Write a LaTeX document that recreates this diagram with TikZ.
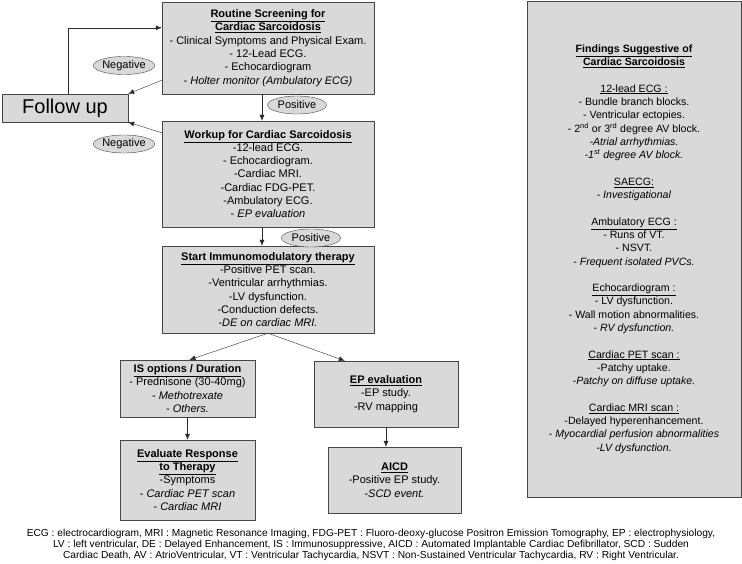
\documentclass[tikz,border=0pt]{standalone}
\usepackage{fontspec}
\setmainfont{Liberation Sans}
\usepackage{tikz}
\usetikzlibrary{shapes.geometric,arrows.meta}

\definecolor{boxfill}{RGB}{217,217,217}
\definecolor{boxline}{RGB}{70,70,70}
\definecolor{arrline}{RGB}{45,45,45}

\tikzset{
  box/.style={draw=boxline, fill=boxfill, align=center, inner sep=2pt,
    font=\fontsize{11}{13.3}\selectfont},
  tag/.style={ellipse, draw=boxline, fill=boxfill, inner sep=0pt,
    minimum width=59pt, minimum height=18pt, font=\fontsize{11}{13}\selectfont},
  arr/.style={draw=arrline, -{Latex[length=6pt,width=5pt]}}
}
\newcommand{\head}[1]{\underline{\textbf{#1}}}

\begin{document}
\begin{tikzpicture}[x=1pt,y=-1pt]
    \useasboundingbox (0,0) rectangle (742,564);
    \node[box, minimum width=126pt, minimum height=28pt, font=\fontsize{20}{24}\selectfont] (follow) at (65,108) {Follow up};
    \node[box, minimum width=212pt, minimum height=92pt] (screen) at (268,48)
      {\head{Routine Screening for}\\ \head{Cardiac Sarcoidosis}\\
       - Clinical Symptoms and Physical Exam.\\ - 12-Lead ECG.\\ - Echocardiogram\\
       - \textit{Holter monitor (Ambulatory ECG)}};
    \node[box, minimum width=212pt, minimum height=106pt] (work) at (268,174)
      {\head{Workup for Cardiac Sarcoidosis}\\ -12-lead ECG.\\ - Echocardiogram.\\
       -Cardiac MRI.\\ -Cardiac FDG-PET.\\ -Ambulatory ECG.\\ - \textit{EP evaluation}};
    \node[box, minimum width=212pt, minimum height=87pt] (start) at (268,289.5)
      {\head{Start Immunomodulatory therapy}\\ -Positive PET scan.\\ -Ventricular arrhythmias.\\
       -LV dysfunction.\\ -Conduction defects.\\ \textit{-DE on cardiac MRI.}};
    \node[box, minimum width=135pt, minimum height=57pt] (is) at (187.5,388.5)
      {\head{IS options / Duration}\\ - Prednisone (30-40mg)\\ - \textit{Methotrexate}\\ - \textit{Others.}};
    \node[box, minimum width=135pt, minimum height=80pt] (eval) at (187.5,480)
      {\head{Evaluate Response}\\ \head{to Therapy}\\ -Symptoms\\ - \textit{Cardiac PET scan}\\ - \textit{Cardiac MRI}};
    \node[box, minimum width=144pt, minimum height=66pt] (ep) at (386,394)
      {\head{EP evaluation}\\ -EP study.\\ -RV mapping};
    \node[box, minimum width=133pt, minimum height=66pt] (aicd) at (394.5,480)
      {\head{AICD}\\ -Positive EP study.\\ -\textit{SCD event.}};
    \node[box, minimum width=214pt, minimum height=496pt, font=\fontsize{10.6}{13.3}\selectfont] (find) at (634,249)
      {\head{Findings Suggestive of}\\ \head{Cardiac Sarcoidosis}\\[13.3pt]
       \underline{12-lead ECG :}\\ - Bundle branch blocks.\\ - Ventricular ectopies.\\
       - 2\textsuperscript{nd} or 3\textsuperscript{rd} degree AV block.\\
       \textit{-Atrial arrhythmias.}\\ \textit{-1\textsuperscript{st} degree AV block.}\\[13.3pt]
       \underline{SAECG:}\\ - \textit{Investigational}\\[13.3pt]
       \underline{Ambulatory ECG :}\\ - Runs of VT.\\ - NSVT.\\ - \textit{Frequent isolated PVCs.}\\[13.3pt]
       \underline{Echocardiogram :}\\ - LV dysfunction.\\ - Wall motion abnormalities.\\ - \textit{RV dysfunction.}\\[13.3pt]
       \underline{Cardiac PET scan :}\\ -Patchy uptake.\\ \textit{-Patchy on diffuse uptake.}\\[13.3pt]
       \underline{Cardiac MRI scan :}\\ -Delayed hyperenhancement.\\ - \textit{Myocardial perfusion abnormalities}\\
       \textit{-LV dysfunction.}};
    \node[tag] (neg1) at (124,65.5) {Negative};
    \node[tag] (neg2) at (124,144) {Negative};
    \node[tag] (pos1) at (297,105) {Positive};
    \node[tag] (pos2) at (311,238) {Positive};
    \node[align=center, font=\fontsize{10.2}{11.2}\selectfont] (abbr) at (371,545)
      {ECG : electrocardiogram, MRI : Magnetic Resonance Imaging, FDG-PET : Fluoro-deoxy-glucose Positron Emission Tomography, EP : electrophysiology,\\
       LV : left ventricular, DE : Delayed Enhancement, IS : Immunosuppressive, AICD : Automated Implantable Cardiac Defibrillator, SCD : Sudden\\
       Cardiac Death, AV : AtrioVentricular, VT : Ventricular Tachycardia, NSVT : Non-Sustained Ventricular Tachycardia, RV : Right Ventricular.};
    % connectors
    \draw[arr] ([xshift=3pt]follow.north) |- ([yshift=-26pt]screen.north west);
    \draw[arr] ([yshift=14pt]screen.south west) -- (follow.north east);
    \draw[arr] ([yshift=-12pt]work.north west) -- (follow.south east);
    \draw[arr] ([xshift=-6pt]screen.south) -- ([xshift=-6pt]work.north);
    \draw[arr] ([xshift=-6pt]work.south) -- ([xshift=-6pt]start.north);
    \draw[arr] (start.south) -- ([xshift=2pt]is.north);
    \draw[arr] (start.south) -- ([xshift=31pt]ep.north west);
    \draw[arr] (is.south) -- (eval.north);
    \draw[arr] (ep.south) -- (ep.south |- aicd.north);
\end{tikzpicture}
\end{document}
